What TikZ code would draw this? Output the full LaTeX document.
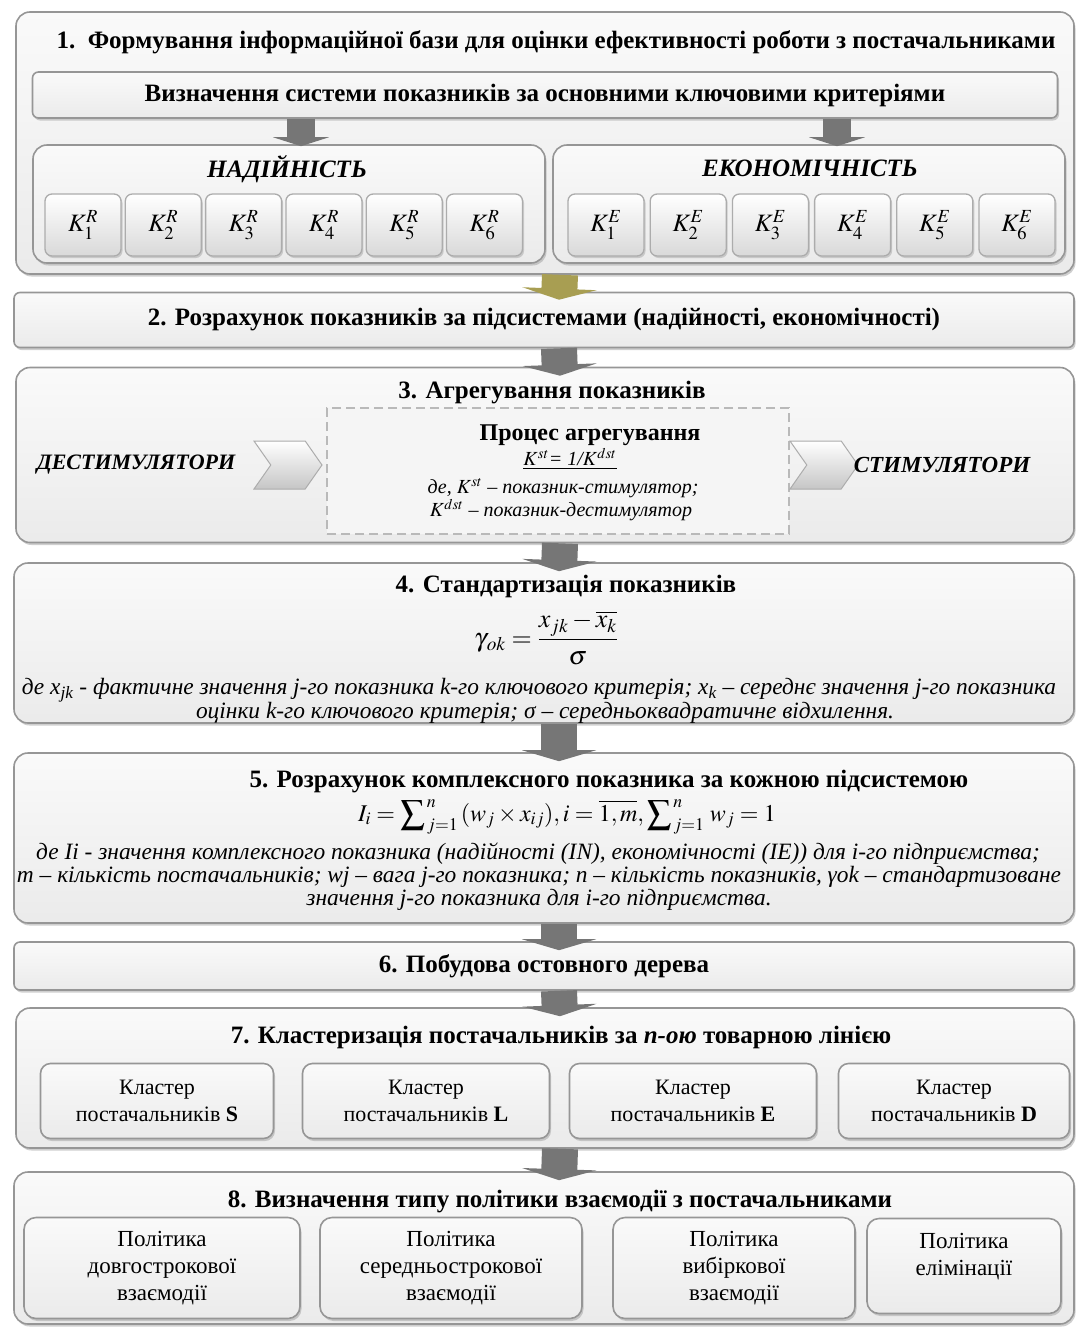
\documentclass[tikz,border=0pt]{standalone}
\usepackage{amsmath}
\usepackage{mathptmx}
\usepackage{fontspec}
\setmainfont{Liberation Serif}
\usetikzlibrary{arrows.meta}
\usetikzlibrary{positioning}
\usetikzlibrary{shadows}
\usetikzlibrary{shapes.symbols}
\definecolor{boxedge}{RGB}{150,150,150}
\definecolor{arrowgray}{RGB}{118,118,118}
\definecolor{arrowgold}{RGB}{168,158,82}

\begin{document}
\begin{tikzpicture}[x=1pt,y=-1pt]
  \tikzset{stage/.style = {shape=rectangle, rounded corners=14pt, draw=boxedge, line width=1.6pt,
      top color=gray!4, bottom color=gray!16, inner sep=0pt,
      drop shadow={shadow xshift=1.5pt, shadow yshift=-2.5pt, fill=gray!75}}}
  \tikzset{bar/.style = {stage, rounded corners=6pt, font=\fontsize{25}{30}\selectfont\bfseries}}
  \tikzset{keybox/.style = {shape=rectangle, rounded corners=7pt, draw=gray!65, line width=1.3pt,
      top color=white, bottom color=gray!30, minimum width=76pt, minimum height=62pt,
      drop shadow={shadow xshift=1.5pt, shadow yshift=-2pt, fill=gray!70},
      font=\fontsize{25}{28}\selectfont}}
  \tikzset{heading/.style = {inner sep=0pt, font=\fontsize{25}{30}\selectfont\bfseries}}
  \tikzset{note/.style = {inner sep=0pt, font=\fontsize{23.4}{25}\selectfont\itshape}}
  \tikzset{procnote/.style = {note, font=\fontsize{20}{22}\selectfont\itshape}}
  \tikzset{plain/.style = {font=\fontsize{22}{27}\selectfont, align=center}}
  \tikzset{polytext/.style = {font=\fontsize{23}{27}\selectfont, align=center}}
  \tikzset{flow/.style = {line width=36pt, draw=arrowgray, -{Triangle[width=74pt,length=11pt]}}}
  \tikzset{subflow/.style = {line width=28pt, draw=arrowgray, -{Triangle[width=56pt,length=9pt]}}}
  \tikzset{chevron/.style = {shape=signal, signal from=west, signal to=east, signal pointer angle=110,
      draw=gray!65, line width=1pt, top color=white, bottom color=gray!45,
      minimum width=68pt, minimum height=48pt}}

  \useasboundingbox (0,0) rectangle (1076,1331);

  % 1
  \node[stage, minimum width=1058pt, minimum height=262pt] (s1) at (545,143) {};
  \node[heading] (t1) at (556,42) {1.\ \ Формування інформаційної бази для оцінки ефективності роботи з постачальниками};
  \node[bar, minimum width=1025pt, minimum height=46pt] (crit) at (545,95)
  {Визначення системи показників за основними ключовими критеріями};

  \node[stage, minimum width=512pt, minimum height=118pt] (rel) at (289,204) {};
  \node[heading, font=\fontsize{25}{30}\selectfont\bfseries\itshape] (relt) at (287,169) {НАДІЙНІСТЬ};
  \foreach \i in {1,...,6}
    \node[keybox] (r\i) at ({83+80.3*(\i-1)},225) {$K_{\i}^{R}$};

  \node[stage, minimum width=512pt, minimum height=118pt] (eco) at (809,204) {};
  \node[heading, font=\fontsize{25}{30}\selectfont\bfseries\itshape] (ecot) at (810,168) {ЕКОНОМІЧНІСТЬ};
  \foreach \i in {1,...,6}
    \node[keybox] (e\i) at ({606+82.2*(\i-1)},225) {$K_{\i}^{E}$};

  \draw[subflow] ([xshift=12pt]rel.north |- crit.south) -- ([xshift=12pt,yshift=-2pt]rel.north);
  \draw[subflow] ([xshift=28pt]eco.north |- crit.south) -- ([xshift=28pt,yshift=-2pt]eco.north);

  % 2
  \node[bar, minimum width=1060pt, minimum height=55pt] (s2) at (544,320)
  {2. Розрахунок показників за підсистемами (надійності, економічності)};

  % 3
  \node[stage, minimum width=1058pt, minimum height=175pt] (s3) at (545,455) {};
  \node[heading] (t3) at (552,393) {3. Агрегування показників};
  \node[shape=rectangle, draw=gray!55, line width=2pt, dash pattern=on 9pt off 5pt,
    fill=gray!8, minimum width=462pt, minimum height=126pt] (proc) at (558,471) {};
  \node[heading, font=\fontsize{24}{28}\selectfont\bfseries] (proct) at (590,435) {Процес агрегування};
  \node[procnote] (kf) at (570,459) {\underline{$K^{st}$= 1/$K^{dst}$}};
  \node[procnote] (d1) at (563,488) {де, $K^{st}$ – показник-стимулятор;};
  \node[procnote] (d2) at (561,510) {$K^{dst}$ – показник-дестимулятор};
  \node[heading, font=\fontsize{22}{28}\selectfont\bfseries\itshape] (dest) at (136,465) {ДЕСТИМУЛЯТОРИ};
  \node[chevron] (c1) at (288,465) {};
  \node[chevron] (c2) at (824,465) {};
  \node[heading, font=\fontsize{23}{28}\selectfont\bfseries\itshape] (stim) at (942,465) {СТИМУЛЯТОРИ};

  % 4
  \node[stage, minimum width=1060pt, minimum height=160pt] (s4) at (544,643) {};
  \node[heading] (t4) at (566,586) {4. Стандартизація показників};
  \node[inner sep=0pt, font=\fontsize{26}{30}\selectfont] (f4) at (546,638)
  {$\gamma_{\,ok}=\dfrac{x_{jk}-\overline{x_k}}{\sigma}$};
  \node[note] (n41) at (539,690) {де x\textsubscript{jk} - фактичне значення j-го показника k-го ключового критерія; x\textsubscript{k} – середнє значення j-го показника};
  \node[note] (n42) at (545,713) {оцінки k-го ключового критерія; σ – середньоквадратичне відхилення.};

  % 5
  \node[stage, minimum width=1060pt, minimum height=170pt] (s5) at (544,838) {};
  \node[heading] (t5) at (609,782) {5. Розрахунок комплексного показника за кожною підсистемою};
  \node[inner sep=0pt, font=\fontsize{24}{28}\selectfont] (f5) at (567,817)
  {$I_i=\displaystyle\sum\nolimits_{\,j=1}^{\,n}\,(w_j\times x_{ij}),i=\overline{1,m},\displaystyle\sum\nolimits_{\,j=1}^{\,n}\,w_j=1$};
  \node[note] (n51) at (538,854) {де Ii - значення комплексного показника (надійності (IN), економічності (IE)) для і-го підприємства;};
  \node[note] (n52) at (539,877) {m – кількість постачальників; wj – вага j-го показника; n – кількість показників, γok – стандартизоване};
  \node[note] (n53) at (539,900) {значення j-го показника для і-го підприємства.};

  % 6
  \node[bar, minimum width=1060pt, minimum height=48pt] (s6) at (544,966)
  {6. Побудова остовного дерева};

  % 7
  \node[stage, minimum width=1058pt, minimum height=140pt] (s7) at (545,1078) {};
  \node[heading] (t7) at (561,1037) {7. Кластеризація постачальників за \textit{n-ою} товарною лінією};
  \node[stage, rounded corners=10pt, minimum width=233pt, minimum height=75pt, plain] (cls) at (157,1101)
  {Кластер\\постачальників \textbf{S}};
  \node[stage, rounded corners=10pt, minimum width=247pt, minimum height=75pt, plain] (cll) at (426,1101)
  {Кластер\\постачальників \textbf{L}};
  \node[stage, rounded corners=10pt, minimum width=247pt, minimum height=75pt, plain] (cle) at (693,1101)
  {Кластер\\постачальників \textbf{E}};
  \node[stage, rounded corners=10pt, minimum width=231pt, minimum height=75pt, plain] (cld) at (954,1101)
  {Кластер\\постачальників \textbf{D}};

  % 8
  \node[stage, minimum width=1060pt, minimum height=152pt] (s8) at (544,1248) {};
  \node[heading] (t8) at (560,1202) {8. Визначення типу політики взаємодії з постачальниками};
  \node[stage, rounded corners=12pt, minimum width=276pt, minimum height=101pt, polytext] (p1) at (162,1268)
  {Політика\\довгострокової\\взаємодії};
  \node[stage, rounded corners=12pt, minimum width=262pt, minimum height=101pt, polytext] (p2) at (451,1268)
  {Політика\\середньострокової\\взаємодії};
  \node[stage, rounded corners=12pt, minimum width=242pt, minimum height=101pt, polytext] (p3) at (734,1268)
  {Політика\\вибіркової\\взаємодії};
  \node[stage, rounded corners=12pt, minimum width=194pt, minimum height=95pt] (p4) at (964,1266) {};
  \node[polytext] (p4t) at (964,1257) {Політика\\елімінації};

  \draw[flow, draw=arrowgold] ([xshift=15pt]s1.south) -- ([xshift=15pt,yshift=-8pt]s2.north);
  \foreach \a/\b in {s2/s3, s3/s4, s4/s5, s5/s6, s6/s7, s7/s8}
    \draw[flow] ([xshift=15pt]\a.south) -- ([xshift=15pt,yshift=-9pt]\b.north);
\end{tikzpicture}
\end{document}
